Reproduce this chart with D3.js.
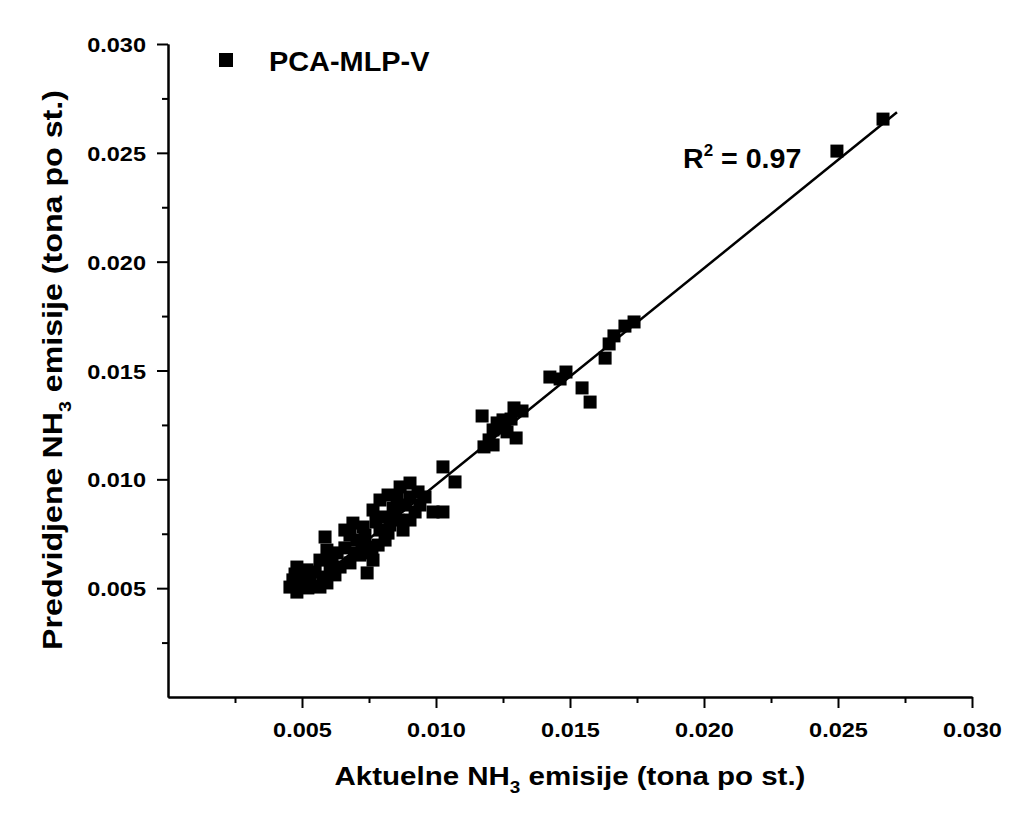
<!DOCTYPE html>
<html>
<head>
<meta charset="utf-8">
<script src="https://cdn.jsdelivr.net/npm/d3@7"></script>
<style>
  html, body { margin: 0; padding: 0; background: #fff; }
  svg { display: block; font-family: "Liberation Sans", Arial, sans-serif; font-weight: bold; }
</style>
</head>
<body>
<svg id="chart" width="1010" height="814"></svg>
<script>
// ---------- data ----------
const seriesName = "PCA-MLP-V";
const actual = [
  0.02668, 0.02496, 0.01739, 0.01705, 0.01664, 0.01646, 0.01631, 0.01425, 0.01463, 0.01485,
  0.01545, 0.01575, 0.01172, 0.01179, 0.01198, 0.01213, 0.01228, 0.01250, 0.01265, 0.01280,
  0.01291, 0.01321, 0.01299, 0.01213, 0.01243, 0.01026, 0.01071, 0.00989, 0.01026, 0.00866,
  0.00903, 0.00933, 0.00855, 0.00940, 0.00858, 0.00877, 0.00903, 0.00791, 0.00765, 0.00802,
  0.00791, 0.00810, 0.00690, 0.00728, 0.00705, 0.00754, 0.00765, 0.00743, 0.00679, 0.00586,
  0.00593, 0.00631, 0.00567, 0.00642, 0.00578, 0.00567, 0.00481, 0.00519, 0.00466, 0.00504,
  0.00481, 0.00455, 0.00660, 0.00716, 0.00828, 0.00840, 0.00922, 0.00493, 0.00530, 0.00605,
  0.00549, 0.00679, 0.00735, 0.00784, 0.00884, 0.00821, 0.00522, 0.00623, 0.00474, 0.00593,
  0.00612, 0.00698, 0.00724, 0.00776, 0.00903, 0.00959, 0.00660, 0.00761, 0.00821, 0.00847
];
const predicted = [
  0.02655, 0.02508, 0.01723, 0.01704, 0.01659, 0.01622, 0.01557, 0.01470, 0.01461, 0.01493,
  0.01420, 0.01355, 0.01291, 0.01149, 0.01181, 0.01227, 0.01259, 0.01273, 0.01218, 0.01277,
  0.01328, 0.01314, 0.01190, 0.01158, 0.01236, 0.01057, 0.00988, 0.00850, 0.00850, 0.00965,
  0.00983, 0.00942, 0.00914, 0.00882, 0.00813, 0.00767, 0.00813, 0.00905, 0.00859, 0.00827,
  0.00767, 0.00721, 0.00799, 0.00781, 0.00721, 0.00689, 0.00629, 0.00570, 0.00616, 0.00735,
  0.00675, 0.00662, 0.00629, 0.00597, 0.00551, 0.00505, 0.00597, 0.00584, 0.00538, 0.00524,
  0.00482, 0.00505, 0.00685, 0.00652, 0.00790, 0.00868, 0.00850, 0.00561, 0.00547, 0.00606,
  0.00574, 0.00744, 0.00744, 0.00698, 0.00882, 0.00928, 0.00501, 0.00561, 0.00565, 0.00524,
  0.00639, 0.00662, 0.00698, 0.00804, 0.00919, 0.00919, 0.00767, 0.00662, 0.00753, 0.00845
];
const xMajorTicks = [0.005, 0.010, 0.015, 0.020, 0.025, 0.030];
const yMajorTicks = [0.005, 0.010, 0.015, 0.020, 0.025, 0.030];
const minorTicks = [0.0025, 0.0075, 0.0125, 0.0175, 0.0225, 0.0275];
const fitSlope = 0.995;
const fitIntercept = -0.0002;
const fitRange = [0.0053, 0.0272];
const r2Text = "0.97";

// ---------- layout ----------
const svg = d3.select("#chart");
const mLeft = 168, mRight = 972, mTop = 44, mBottom = 697;
const x = d3.scaleLinear().domain([0, 0.030]).range([mLeft, mRight]);
const y = d3.scaleLinear().domain([0, 0.030]).range([mBottom, mTop]);
const fmt = d3.format(".3f");

svg.append("rect").attr("width", 1010).attr("height", 814).attr("fill", "#fff");

// ---------- axes ----------
const gx = svg.append("g").attr("transform", `translate(0,${mBottom})`);
gx.append("g").call(d3.axisBottom(x).tickValues(minorTicks).tickSize(6).tickSizeOuter(0).tickFormat(""));
gx.append("g").call(d3.axisBottom(x).tickValues(xMajorTicks).tickSize(11).tickSizeOuter(0).tickFormat(fmt));
const gy = svg.append("g").attr("transform", `translate(${mLeft},0)`);
gy.append("g").call(d3.axisLeft(y).tickValues(minorTicks).tickSize(6).tickSizeOuter(0).tickFormat(""));
gy.append("g").call(d3.axisLeft(y).tickValues(yMajorTicks).tickSize(11).tickSizeOuter(0).tickFormat(fmt));

svg.selectAll(".domain").attr("stroke", "#000").attr("stroke-width", 2);
svg.selectAll(".tick line").attr("stroke", "#000").attr("stroke-width", 2);
svg.selectAll(".tick text").attr("fill", "#000").attr("font-size", 21)
   .attr("font-family", "Liberation Sans, Arial, sans-serif").attr("font-weight", "bold");
gx.selectAll(".tick text").attr("y", 0).attr("dy", 0)
  .attr("transform", "translate(0,40) scale(1.12,1)");
gy.selectAll(".tick text").attr("x", 0).attr("dy", "0.36em")
  .attr("transform", "translate(-22,0) scale(1.12,1)");

// ---------- regression line ----------
svg.append("line")
  .attr("x1", x(fitRange[0])).attr("y1", y(fitSlope * fitRange[0] + fitIntercept))
  .attr("x2", x(fitRange[1])).attr("y2", y(fitSlope * fitRange[1] + fitIntercept))
  .attr("stroke", "#000").attr("stroke-width", 2.5);

// ---------- points ----------
const pts = actual.map((a, i) => ({ a, p: predicted[i] }));
const sq = 13;
svg.append("g").selectAll("rect").data(pts).join("rect")
  .attr("x", d => x(d.a) - sq / 2).attr("y", d => y(d.p) - sq / 2)
  .attr("width", sq).attr("height", sq).attr("fill", "#000");

// ---------- legend ----------
svg.append("rect").attr("x", 226 - 7).attr("y", 60 - 7).attr("width", 14).attr("height", 14).attr("fill", "#000");
svg.append("g").attr("transform", "translate(269,71) scale(1.07,1)")
  .append("text").attr("font-size", 27).attr("fill", "#000").text(seriesName);

// ---------- R^2 ----------
const rt = svg.append("g").attr("transform", "translate(683,168) scale(1.06,1)")
  .append("text").attr("font-size", 27).attr("fill", "#000");
rt.append("tspan").text("R");
rt.append("tspan").attr("font-size", 16).attr("dy", -12).text("2");
rt.append("tspan").attr("dy", 12).text(" = " + r2Text);

// ---------- axis titles ----------
const xt = svg.append("g").attr("transform", "translate(570,785) scale(1.18,1)")
  .append("text").attr("font-size", 25).attr("text-anchor", "middle").attr("fill", "#000");
xt.append("tspan").text("Aktuelne NH");
xt.append("tspan").attr("font-size", 16).attr("dy", 8).text("3");
xt.append("tspan").attr("dy", -8).text(" emisije (tona po st.)");

const yt = svg.append("g").attr("transform", "translate(62,370) rotate(-90) scale(1.15,1)")
  .append("text").attr("font-size", 28).attr("text-anchor", "middle").attr("fill", "#000");
yt.append("tspan").text("Predvidjene NH");
yt.append("tspan").attr("font-size", 17).attr("dy", 9).text("3");
yt.append("tspan").attr("dy", -9).text(" emisije (tona po st.)");
</script>
</body>
</html>
